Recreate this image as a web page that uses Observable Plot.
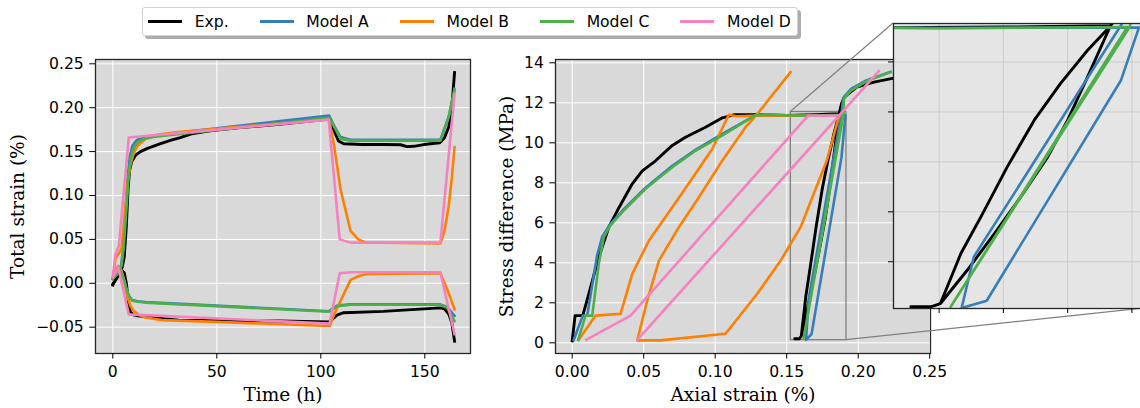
<!DOCTYPE html>
<html>
<head>
<meta charset="utf-8">
<script src="https://cdn.jsdelivr.net/npm/d3@7"></script>
<script src="https://cdn.jsdelivr.net/npm/@observablehq/plot@0.6"></script>
<style>
  html, body { margin: 0; padding: 0; overflow: hidden; background: #fff; }
  #fig { position: relative; width: 1140px; height: 408px; }
  #fig svg { position: absolute; left: 0; top: 0; max-width: none; overflow: visible; background: transparent; }
  .legend {
    position: absolute; left: 142px; top: 7px; height: 27px;
    display: flex; align-items: center;
    padding: 0 6px 0 5px;
    background: #fff; border: 1px solid #d2d2d2; border-radius: 3px;
    box-shadow: 3px 3px 0 0 rgba(0,0,0,0.32);
    font: 15.6px "DejaVu Sans", sans-serif; color: #000;
  }
  .legend .item { display: flex; align-items: center; white-space: nowrap; }
  .legend .item + .item { margin-left: 31px; }
  .legend .swatch { width: 34px; height: 2.7px; margin-right: 12.7px; }
</style>
</head>
<body>
<div id="fig"></div>
<script>
// ---- series ----
const seriesNames = ["Exp.", "Model A", "Model B", "Model C", "Model D"];
const seriesColors = ["#000000", "#377eb8", "#ff7f00", "#4daf4a", "#f781bf"];

// ---- left panel: total strain (%) against time (h) ----
// Exp.
const expTimeAx = [0, 1.5, 3, 4.5, 5.5, 6.5, 7.3, 8, 9, 11, 13.3, 17, 23, 28, 32.5, 37.4, 45, 50, 60, 80, 104, 106, 108.5, 111, 120, 130, 138.3, 141.5, 144.7, 149.5, 157.2, 159.5, 161.5, 163, 164.3];
const expAxial = [-0.002, 0.006, 0.012, 0.018, 0.03, 0.065, 0.105, 0.128, 0.138, 0.146, 0.15, 0.154, 0.159, 0.163, 0.166, 0.17, 0.173, 0.1745, 0.177, 0.181, 0.187, 0.176, 0.162, 0.159, 0.158, 0.158, 0.1578, 0.1556, 0.156, 0.158, 0.16, 0.166, 0.178, 0.2, 0.24];
const expTimeLat = [0, 1.5, 3, 4.5, 5.5, 6.5, 7.5, 8.5, 10, 12, 15.7, 23, 31.7, 50, 80, 104, 106, 108, 111, 130, 157.5, 159.5, 161.5, 163, 164.3];
const expLateral = [-0.001, 0.004, 0.01, 0.014, 0.012, 0.0, -0.022, -0.033, -0.036, -0.037, -0.038, -0.040, -0.042, -0.0425, -0.043, -0.044, -0.040, -0.036, -0.0335, -0.032, -0.028, -0.029, -0.035, -0.045, -0.066];
// Model A
const aTimeAx = [0, 2, 4, 5.2, 6.2, 7.2, 8.2, 9.5, 11.5, 15, 20.5, 104, 106.5, 109.5, 114.3, 157.5, 161.5, 164.3];
const aAxial = [0.005, 0.011, 0.02, 0.045, 0.085, 0.122, 0.145, 0.157, 0.163, 0.1665, 0.1685, 0.191, 0.179, 0.1665, 0.1635, 0.1635, 0.19, 0.22];
const aTimeLat = [0, 2.1, 4, 5.5, 6.5, 7.7, 9.3, 12, 15.7, 104, 107.9, 114.3, 157.2, 160.8, 164.3];
const aLateral = [0.005, 0.016, 0.012, 0.003, -0.006, -0.014, -0.019, -0.0205, -0.0215, -0.0318, -0.0255, -0.024, -0.024, -0.027, -0.037];
// Model B
const bTimeAx = [0, 1.3, 2.9, 4.2, 5.2, 6.1, 7, 8.5, 10, 12, 15.7, 19, 23.7, 30, 104, 106.5, 109.5, 114.3, 118, 121.5, 157.5, 159.5, 161.5, 163, 164.3];
const bAxial = [0.005, 0.028, 0.034, 0.04, 0.065, 0.088, 0.113, 0.135, 0.148, 0.157, 0.1644, 0.1675, 0.17, 0.172, 0.187, 0.155, 0.107, 0.0597, 0.05, 0.0464, 0.0455, 0.06, 0.088, 0.12, 0.155];
const bTimeLat = [0, 1.3, 2.6, 3.5, 4.5, 5.5, 6.9, 8.5, 10.1, 12.5, 15.7, 23.7, 50, 104.3, 106.5, 109.5, 114.3, 118, 121.5, 157.5, 160.8, 164.3];
const bLateral = [0.005, 0.016, 0.0197, 0.018, 0.012, 0.003, -0.0145, -0.026, -0.0316, -0.036, -0.039, -0.042, -0.044, -0.0487, -0.035, -0.02, 0.0038, 0.008, 0.0103, 0.0115, -0.007, -0.0297];
// Model C
const cTimeAx = [0, 2, 4.2, 5.2, 6.1, 7, 7.7, 8.5, 9.3, 10.5, 12.5, 16, 20.5, 104, 106.5, 109.5, 114.3, 157.5, 161.5, 164.3];
const cAxial = [0.005, 0.01, 0.02, 0.04, 0.069, 0.1, 0.126, 0.14, 0.149, 0.156, 0.1615, 0.165, 0.167, 0.1885, 0.178, 0.1645, 0.1625, 0.1625, 0.189, 0.2215];
const cTimeLat = [0, 2.1, 4, 5.5, 6.5, 7.7, 9.3, 12, 15.7, 104, 107.9, 114.3, 157.2, 160.8, 164.3];
const cLateral = [0.005, 0.016, 0.012, 0.003, -0.006, -0.0145, -0.02, -0.021, -0.022, -0.0324, -0.026, -0.0245, -0.0245, -0.028, -0.043];
// Model D
const dTimeAx = [0, 1.3, 2.9, 7.7, 103.8, 109.1, 114.3, 157.5, 164.3];
const dAxial = [0.007, 0.033, 0.0426, 0.166, 0.1864, 0.05, 0.0463, 0.0463, 0.2157];
const dTimeLat = [0, 2.6, 7.7, 104.2, 109.1, 114.3, 157.5, 164.3];
const dLateral = [0.007, 0.018, -0.0354, -0.046, 0.0114, 0.0125, 0.0125, -0.058];

// ---- right panel: stress difference (MPa) against axial strain (%) ----
const expStrain = [0, 0.002, 0.0074, 0.0116, 0.0186, 0.0256, 0.0315, 0.042, 0.049, 0.0583, 0.07, 0.0792, 0.0932, 0.105, 0.113, 0.13, 0.15, 0.17, 0.1867, 0.1831, 0.1789, 0.1748, 0.1706, 0.1665, 0.1634, 0.1602, 0.1587, 0.1556, 0.1587, 0.1602, 0.1644, 0.1686, 0.1727, 0.1769, 0.18, 0.1831, 0.1867, 0.1885, 0.1905, 0.199, 0.211, 0.224, 0.2385];
const expStress = [0.1, 1.36, 1.36, 2.45, 4.28, 5.78, 6.6, 7.95, 8.6, 9.1, 9.87, 10.28, 10.78, 11.25, 11.4, 11.4, 11.37, 11.4, 11.45, 10.47, 9.14, 7.67, 5.8, 3.8, 2.34, 0.33, 0.2, 0.2, 0.2, 0.33, 1.67, 3.13, 4.6, 6.2, 7.67, 9.4, 11.47, 12.0, 12.3, 12.78, 13.03, 13.22, 13.4];
const aStrain = [0.0011, 0.0074, 0.0105, 0.0175, 0.021, 0.0268, 0.035, 0.0513, 0.07, 0.0862, 0.105, 0.128, 0.135, 0.16, 0.1911, 0.1883, 0.1674, 0.1635, 0.1654, 0.1883, 0.1895, 0.195, 0.205, 0.2225];
const aStress = [0.15, 1.36, 1.36, 4.4, 5.3, 5.95, 6.6, 7.75, 8.85, 9.65, 10.45, 11.37, 11.4, 11.36, 11.38, 9.27, 0.44, 0.15, 2.2, 11.47, 12.25, 12.7, 13.1, 13.55];
const bStrain = [0.0046, 0.0163, 0.0338, 0.042, 0.0536, 0.07, 0.0862, 0.098, 0.1095, 0.115, 0.13, 0.16, 0.187, 0.1853, 0.178, 0.1597, 0.1457, 0.1294, 0.1072, 0.0617, 0.0455, 0.0524, 0.0606, 0.0746, 0.0886, 0.1049, 0.1212, 0.129, 0.1387, 0.1527];
const bStress = [0.15, 1.36, 1.45, 3.45, 5.1, 6.78, 8.45, 9.7, 11.4, 11.33, 11.36, 11.35, 11.35, 11.0, 9.1, 5.78, 4.1, 2.45, 0.45, 0.12, 0.12, 2.1, 4.1, 5.78, 7.28, 9.1, 10.78, 11.4, 12.28, 13.53];
const cStrain = [0.0042, 0.0093, 0.014, 0.0186, 0.0221, 0.0268, 0.035, 0.0513, 0.07, 0.0862, 0.105, 0.128, 0.135, 0.16, 0.1893, 0.1618, 0.1897, 0.19, 0.1946, 0.2063, 0.2226];
const cStress = [0.15, 1.36, 1.36, 3.95, 5.28, 5.87, 6.53, 7.7, 8.78, 9.6, 10.37, 11.37, 11.4, 11.35, 11.4, 0.2, 11.42, 12.2, 12.6, 13.1, 13.53];
const dStrain = [0.0098, 0.0408, 0.1648, 0.1865, 0.0455, 0.1865, 0.2144];
const dStress = [0.15, 1.36, 11.35, 11.35, 0.15, 11.35, 13.58];

// ---- ticks and zoom window ----
const timeTicks = [0, 50, 100, 150];
const totalStrainTicks = [-0.05, 0, 0.05, 0.1, 0.15, 0.2, 0.25];
const axialTicks = [0, 0.05, 0.1, 0.15, 0.2, 0.25];
const stressTicks = [0, 2, 4, 6, 8, 10, 12, 14];
const zoomStrainTicks = [0.16, 0.17, 0.18, 0.19];
const zoomStressTicks = [2, 4, 6, 8, 10];
const zoomStrain = [0.1529, 0.1918];
const zoomStress = [0.13, 11.54];
const zoomSeries = ["Exp.", "Model A", "Model C"];

// ---- tables ----
const timeSeries = [
  [expTimeAx, expAxial, expTimeLat, expLateral],
  [aTimeAx, aAxial, aTimeLat, aLateral],
  [bTimeAx, bAxial, bTimeLat, bLateral],
  [cTimeAx, cAxial, cTimeLat, cLateral],
  [dTimeAx, dAxial, dTimeLat, dLateral]
];
const stressSeries = [
  [expStrain, expStress], [aStrain, aStress], [bStrain, bStress], [cStrain, cStress], [dStrain, dStress]
];
const pairs = (xs, ys) => xs.map((x, i) => ({x, y: ys[i]}));

const W = 1140, H = 408;
const sansFont = "'DejaVu Sans', sans-serif";
const serifFont = "'DejaVu Serif', serif";
const panelBg = "#d9d9d9";
const frameColor = "#262626";
const lineStyle = (i) => ({
  x: "x", y: "y", stroke: seriesColors[i],
  strokeWidth: i === 0 ? 2.9 : 2.6,
  strokeLinejoin: "round", strokeLinecap: "square"
});
const baseStyle = {background: "transparent", fontFamily: sansFont, fontSize: "15.6px", color: "#000", overflow: "visible"};
const xTitle = (t) => Plot.text([t], {frameAnchor: "bottom", textAnchor: "middle", lineAnchor: "middle", dy: 42, fontFamily: serifFont, fontSize: 18.5});
const yTitle = (t, dx) => Plot.text([t], {frameAnchor: "left", textAnchor: "middle", lineAnchor: "middle", rotate: -90, dx, fontFamily: serifFont, fontSize: 18.5});

const fig = document.getElementById("fig");

// Left panel
const left = Plot.plot({
  width: W, height: H,
  marginLeft: 95, marginRight: W - 470, marginTop: 59, marginBottom: H - 353,
  style: baseStyle,
  x: {domain: [-8.32, 171.97]},
  y: {domain: [-0.0800, 0.2549]},
  marks: [
    Plot.frame({fill: panelBg}),
    Plot.gridX({ticks: timeTicks, stroke: "#fff", strokeOpacity: 1, strokeWidth: 1}),
    Plot.gridY({ticks: totalStrainTicks, stroke: "#fff", strokeOpacity: 1, strokeWidth: 1}),
    ...timeSeries.flatMap(([ta, ax, tl, lat], i) => [
      Plot.line(pairs(ta, ax), lineStyle(i)),
      Plot.line(pairs(tl, lat), lineStyle(i))
    ]),
    Plot.frame({stroke: frameColor, strokeWidth: 1.3}),
    Plot.axisX({ticks: timeTicks, tickSize: 5.5, tickPadding: 7, label: null}),
    Plot.axisY({ticks: totalStrainTicks, tickSize: 5.7, tickPadding: 6, tickFormat: d3.format(".2f"), label: null}),
    xTitle("Time (h)"),
    yTitle("Total strain (%)", -77)
  ]
});
fig.appendChild(left);

// Right panel
const right = Plot.plot({
  width: W, height: H,
  marginLeft: 555, marginRight: W - 930, marginTop: 59, marginBottom: H - 353,
  style: baseStyle,
  x: {domain: [-0.01168, 0.25056]},
  y: {domain: [-0.535, 14.165]},
  marks: [
    Plot.frame({fill: panelBg}),
    Plot.gridX({ticks: axialTicks, stroke: "#fff", strokeOpacity: 1, strokeWidth: 1}),
    Plot.gridY({ticks: stressTicks, stroke: "#fff", strokeOpacity: 1, strokeWidth: 1}),
    Plot.rect([{x1: zoomStrain[0], x2: zoomStrain[1], y1: zoomStress[0], y2: zoomStress[1]}],
      {x1: "x1", x2: "x2", y1: "y1", y2: "y2", fill: "none", stroke: "#808080", strokeWidth: 1.3}),
    ...stressSeries.map(([xs, ys], i) => Plot.line(pairs(xs, ys), lineStyle(i))),
    Plot.frame({stroke: frameColor, strokeWidth: 1.3}),
    Plot.axisX({ticks: axialTicks, tickSize: 5.5, tickPadding: 7, tickFormat: d3.format(".2f"), label: null}),
    Plot.axisY({ticks: stressTicks, tickSize: 5.7, tickPadding: 6, label: null}),
    xTitle("Axial strain (%)"),
    yTitle("Stress difference (MPa)", -48.5)
  ]
});
fig.appendChild(right);

// Zoomed inset on the unload/reload loop
const IW = W + 10;
const inset = Plot.plot({
  width: IW, height: H,
  marginLeft: 893, marginRight: IW - 1143, marginTop: 23, marginBottom: H - 308,
  style: baseStyle,
  x: {domain: zoomStrain},
  y: {domain: zoomStress},
  marks: [
    Plot.frame({fill: "#e5e5e5"}),
    Plot.gridX({ticks: zoomStrainTicks, stroke: "#cbcbcb", strokeOpacity: 1, strokeWidth: 1}),
    Plot.gridY({ticks: zoomStressTicks, stroke: "#cbcbcb", strokeOpacity: 1, strokeWidth: 1}),
    ...stressSeries.map(([xs, ys], i) => zoomSeries.includes(seriesNames[i])
      ? Plot.line(pairs(xs, ys), {...lineStyle(i), clip: true}) : null).filter(Boolean),
    Plot.frame({stroke: frameColor, strokeWidth: 1.3}),
    Plot.axisX({ticks: zoomStrainTicks, tickSize: 5, tickFormat: () => "", label: null}),
    Plot.axisY({ticks: zoomStressTicks, tickSize: 5, tickFormat: () => "", label: null})
  ]
});

// Connector lines from the zoom window to the inset corners
const toScale = (s) => d3.scaleLinear(s.domain, s.range);
const rx = toScale(right.scale("x")), ry = toScale(right.scale("y"));
const ix = toScale(inset.scale("x")), iy = toScale(inset.scale("y"));
const connectors = d3.create("svg").attr("width", W).attr("height", H);
connectors.selectAll("line")
  .data([
    [zoomStrain[0], zoomStress[1]],
    [zoomStrain[1], zoomStress[0]]
  ])
  .join("line")
  .attr("x1", d => rx(d[0])).attr("y1", d => ry(d[1]))
  .attr("x2", d => ix(d[0])).attr("y2", d => iy(d[1]))
  .attr("stroke", "#808080").attr("stroke-width", 1.2);
fig.appendChild(connectors.node());
fig.appendChild(inset);

// Legend
const legend = document.createElement("div");
legend.className = "legend";
seriesNames.forEach((name, i) => {
  const item = document.createElement("div");
  item.className = "item";
  const sw = document.createElement("span");
  sw.className = "swatch";
  sw.style.background = seriesColors[i];
  const label = document.createElement("span");
  label.textContent = name;
  item.appendChild(sw);
  item.appendChild(label);
  legend.appendChild(item);
});
fig.appendChild(legend);
</script>
</body>
</html>
